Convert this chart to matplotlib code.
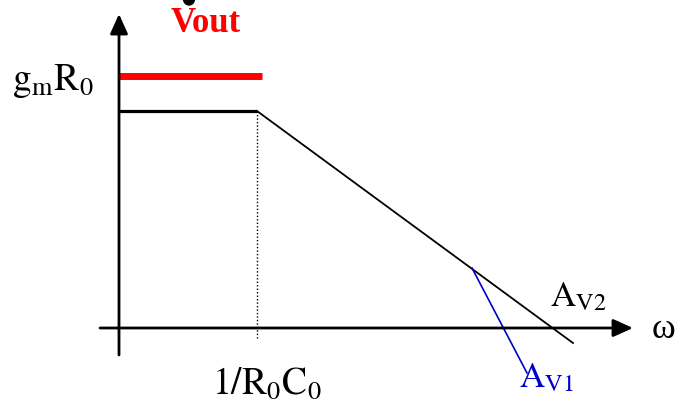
import numpy as np
import matplotlib.pyplot as plt
from matplotlib.patches import Ellipse

plt.rcParams['mathtext.fontset'] = 'stix'
plt.rcParams['font.family'] = ['Liberation Serif', 'DejaVu Serif']

# asymptotic gain curve (A_V2): flat up to the pole 1/R0C0, then rolling off
omega_av2 = [0, 138, 454]
gain_av2 = [217, 217, -15]
# output level gm*R0 (Vout)
omega_vout = [0, 143]
gain_vout = [252, 252]
# steeper second roll-off (A_V1)
omega_av1 = [353, 408]
gain_av1 = [60, -45]
pole = 138

fig = plt.figure(figsize=(6.75, 4.09), dpi=100)
ax = fig.add_axes([0, 0, 1, 1])
ax.set_xlim(-119, 556)
ax.set_ylim(-81, 328)
ax.axis('off')

# axes with arrow heads
arr = dict(arrowstyle='-|>,head_length=0.6,head_width=0.27', color='k', lw=2.0,
           mutation_scale=20, shrinkA=0, shrinkB=0)
ax.annotate('', xy=(0, 314), xytext=(0, -27), arrowprops=arr)
ax.annotate('', xy=(514, 0), xytext=(-19, 0), arrowprops=arr)

ax.plot(omega_vout, gain_vout, color='#ff0000', lw=5, solid_capstyle='butt')
ax.plot(omega_av2[:2], gain_av2[:2], color='k', lw=2.3, solid_capstyle='butt')
ax.plot(omega_av2[1:], gain_av2[1:], color='k', lw=1.3)
ax.plot([pole, pole], [gain_av2[1], -10], color='k', lw=1, ls=(0, (1, 1.5)))
ax.plot(omega_av1, gain_av1, color='#0000cc', lw=1.2)

ax.add_patch(Ellipse((70, 329), 11, 12, color='k'))

ax.text(87, 304, 'Vout', color='#ff0000', fontsize=25, fontweight='bold',
        ha='center', va='center')
ax.text(-107, 247, r'$\mathrm{g_mR_0}$', fontsize=27, ha='left', va='center')
ax.text(148, -56, r'$\mathrm{1/R_0C_0}$', fontsize=27, ha='center', va='center')
ax.text(431, 30, r'$\mathrm{A_{V2}}$', fontsize=25, ha='left', va='center')
ax.text(400, -51, r'$\mathrm{A_{V1}}$', fontsize=25, ha='left', va='center',
        color='#0000cc')
ax.text(533, -1, 'ω', fontsize=26, ha='left', va='center')

fig.savefig('out.png', dpi=100)
